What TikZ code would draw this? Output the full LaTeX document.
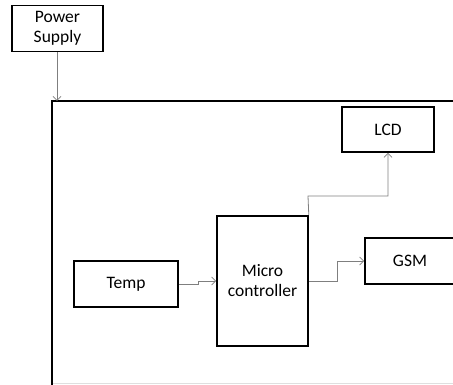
\documentclass[tikz,border=0pt]{standalone}
\usepackage{fontspec}
\setmainfont{Carlito}
\usetikzlibrary{arrows.meta}
\definecolor{conn}{HTML}{7F7F7F}
\begin{document}
\begin{tikzpicture}[x=1pt,y=-1pt,
  blk/.style={draw=black,line width=1.6pt,fill=white,inner sep=0pt,align=center,
    font=\fontsize{17.5}{20}\selectfont},
  link/.style={draw=conn,line width=0.8pt,-{Straight Barb[length=4pt,width=8pt]}}]
\useasboundingbox (0,0) rectangle (453,385);
\draw[gray!25,line width=0.8pt] (52,383.5) -- (453,383.5);
\draw[black,line width=1.6pt] (460,101) -- (52,101) -- (52,390);
\coordinate (top) at (57,101);
\node[blk,minimum width=91pt,minimum height=46pt] (pow) at (57.5,28.5) {Power\\Supply};
\node[blk,minimum width=92pt,minimum height=45pt] (lcd) at (388,129.5) {LCD};
\node[blk,minimum width=91pt,minimum height=130pt] (mc) at (262.5,281) {Micro\\controller};
\node[blk,minimum width=90pt,minimum height=46pt] (gsm) at (410,261) {GSM};
\node[blk,minimum width=104pt,minimum height=46pt] (temp) at (126,284) {Temp};
\draw[link] (pow.south -| top) -- (top);
\draw[link] (temp.east) -- (198,284) -- (198,281) -- (mc.west);
\draw[link] (mc.east) -- (337,281) -- (337,261) -- (gsm.west);
\draw[link] (mc.north east) -- (308,196) -- (388,196) -- (lcd.south);
\end{tikzpicture}
\end{document}
